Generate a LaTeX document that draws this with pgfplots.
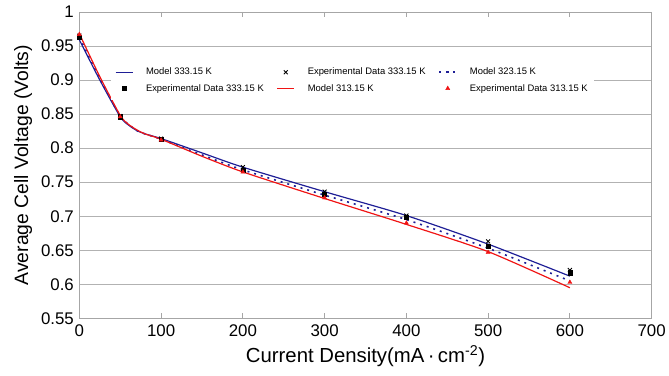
\documentclass[border=0pt]{standalone}
\usepackage{pgfplots}
\pgfplotsset{compat=1.18}
\usepackage{fontspec}
\setmainfont{Liberation Sans}
\definecolor{navy}{RGB}{30,30,150}
\definecolor{myred}{RGB}{240,20,20}
\begin{document}
\begin{tikzpicture}
\begin{axis}[
  scale only axis, width=577pt, height=309pt,
  xmin=0, xmax=700, ymin=0.55, ymax=1,
  xtick={0,100,...,700}, ytick={0.55,0.6,...,1.01},
  yticklabels={0.55,0.6,0.65,0.7,0.75,0.8,0.85,0.9,0.95,1},
  ymajorgrids, grid style={gray!60, line width=0.8pt},
  axis line style={gray!70, line width=0.8pt},
  xtick style={gray!70, line width=0.8pt}, major tick length=5pt,
  tick align=inside, ytick style={draw=none},
  tick label style={font=\fontsize{17}{20}\selectfont},
  yticklabel style={xshift=-2pt},
  xticklabel style={yshift=-3pt},
  /pgf/number format/assume math mode=true,
  xlabel={Current Density(mA\,·\,cm\textsuperscript{-2})},
  ylabel={Average Cell Voltage (Volts)},
  xlabel style={font=\fontsize{20.5}{23}\selectfont, yshift=-2pt},
  ylabel style={font=\fontsize{19.5}{22}\selectfont, yshift=2pt},
  legend columns=3,
  legend style={at={(0.055,0.84)}, anchor=north west, draw=none, fill=white,
    font=\fontsize{9.5}{11}\selectfont, column sep=11pt, row sep=4pt,
    inner xsep=4pt, inner ysep=5pt},
  legend cell align=left,
  clip=false,
]
\addplot[navy, line width=1.2pt, smooth, tension=0.4] coordinates {
 (0,0.959) (25,0.900) (50,0.846) (60,0.834) (70,0.826) (80,0.821) (100,0.814)
 (150,0.793) (200,0.772) (300,0.736) (400,0.701) (500,0.659) (600,0.612)};
\addlegendentry{Model 333.15 K}
\addplot[only marks, mark=x, mark size=2.8pt, black, line width=0.9pt] coordinates {
 (0,0.965) (50,0.847) (100,0.814) (200,0.772) (300,0.736) (400,0.701) (500,0.663) (600,0.621)};
\addlegendentry{Experimental Data 333.15 K}
\addplot[navy, line width=1.6pt, dash pattern=on 2pt off 5pt, smooth, tension=0.4] coordinates {
 (0,0.963) (25,0.902) (50,0.847) (60,0.835) (70,0.826) (80,0.821) (100,0.813)
 (150,0.790) (200,0.768) (300,0.731) (400,0.695) (500,0.653) (600,0.605)};
\addlegendentry{Model 323.15 K}
\addplot[only marks, mark=square*, mark size=2.1pt, black] coordinates {
 (0,0.963) (50,0.846) (100,0.813) (200,0.768) (300,0.732) (400,0.698) (500,0.656) (600,0.617)};
\addlegendentry{Experimental Data 333.15 K}
\addplot[myred, line width=1.2pt, smooth, tension=0.4] coordinates {
 (0,0.968) (25,0.905) (50,0.848) (60,0.835) (70,0.827) (80,0.821) (100,0.813)
 (150,0.788) (200,0.765) (300,0.726) (400,0.688) (500,0.648) (600,0.595)};
\addlegendentry{Model 313.15 K}
\addplot[only marks, mark=triangle*, mark size=2.4pt, myred] coordinates {
 (0,0.967) (50,0.846) (100,0.812) (200,0.765) (300,0.727) (400,0.690) (500,0.647) (600,0.603)};
\addlegendentry{Experimental Data 313.15 K}
\coordinate (ll) at (rel axis cs:0,0);
\coordinate (ur) at (rel axis cs:1,1);
\end{axis}
\path ([shift={(-80pt,-58pt)}]ll) rectangle ([shift={(0pt,12pt)}]ur);
\end{tikzpicture}
\end{document}
